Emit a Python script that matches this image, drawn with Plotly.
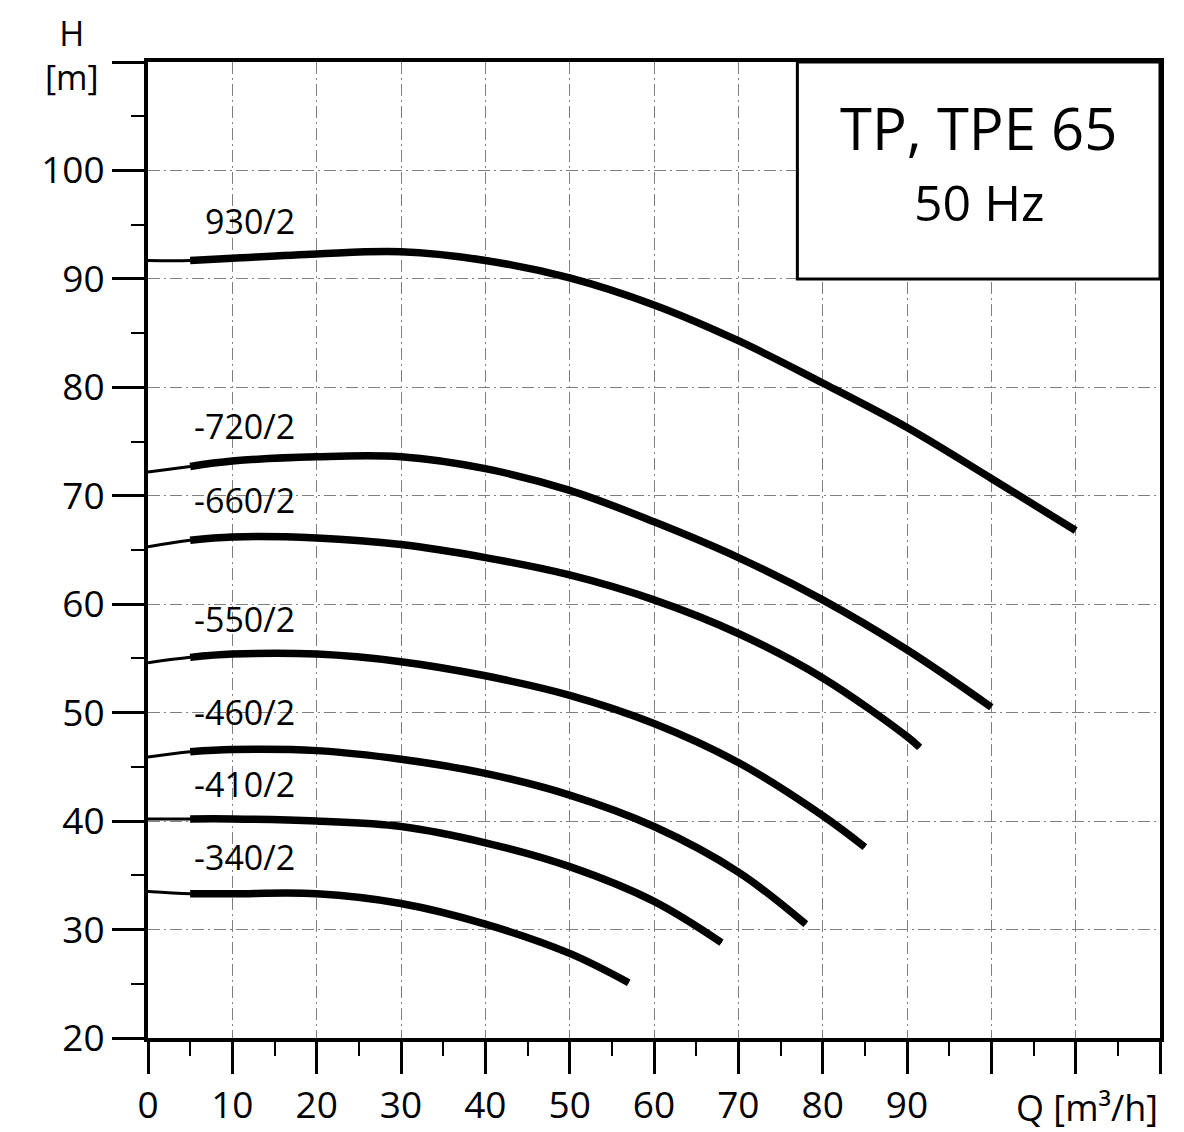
import plotly.graph_objects as go

# ---- data ----
curve_names = ["930/2", "-720/2", "-660/2", "-550/2", "-460/2", "-410/2", "-340/2"]

q_930 = [0, 5, 10, 20, 30, 40, 50, 60, 70, 80, 90, 100, 110]
h_930 = [91.7, 91.7, 91.9, 92.3, 92.5, 91.7, 90.1, 87.6, 84.3, 80.4, 76.3, 71.6, 66.8]

q_720 = [0, 5, 10, 20, 30, 40, 50, 60, 70, 80, 90, 100]
h_720 = [72.2, 72.7, 73.2, 73.6, 73.6, 72.5, 70.5, 67.6, 64.3, 60.4, 55.8, 50.5]

q_660 = [0, 5, 10, 20, 30, 40, 50, 60, 70, 80, 90, 91.5]
h_660 = [65.3, 65.9, 66.2, 66.1, 65.5, 64.3, 62.7, 60.4, 57.3, 53.2, 47.8, 46.8]

q_550 = [0, 5, 10, 20, 30, 40, 50, 60, 70, 80, 85]
h_550 = [54.6, 55.1, 55.4, 55.4, 54.7, 53.4, 51.6, 49.0, 45.4, 40.5, 37.6]

q_460 = [0, 5, 10, 20, 30, 40, 50, 60, 70, 78]
h_460 = [45.9, 46.4, 46.6, 46.5, 45.7, 44.4, 42.4, 39.5, 35.3, 30.5]

q_410 = [0, 5, 10, 20, 30, 40, 50, 60, 68]
h_410 = [40.2, 40.2, 40.2, 40.0, 39.5, 38.0, 35.8, 32.6, 28.8]

q_340 = [0, 5, 10, 20, 30, 40, 50, 57]
h_340 = [33.5, 33.3, 33.3, 33.3, 32.4, 30.5, 27.8, 25.1]

x_tick_vals = [0, 10, 20, 30, 40, 50, 60, 70, 80, 90, 100, 110, 120]
x_tick_text = ["0", "10", "20", "30", "40", "50", "60", "70", "80", "90", "", "", ""]
y_tick_vals = [20, 30, 40, 50, 60, 70, 80, 90, 100, 110]
y_tick_text = ["20", "30", "40", "50", "60", "70", "80", "90", "100", ""]

title_line1 = "TP, TPE 65"
title_line2 = "50 Hz"
x_title = "Q [m³/h]"
y_title = "H<br>[m]"

curves = [
    (curve_names[0], q_930, h_930),
    (curve_names[1], q_720, h_720),
    (curve_names[2], q_660, h_660),
    (curve_names[3], q_550, h_550),
    (curve_names[4], q_460, h_460),
    (curve_names[5], q_410, h_410),
    (curve_names[6], q_340, h_340),
]

# ---- styling ----
FONT = "Open Sans"
label_shift_px = [-39, -46, -47, -44, -45, -35, -35]   # label placement above curve start

fig = go.Figure()

for (name, q, h), dy in zip(curves, label_shift_px):
    # thin lead-in part of the curve
    fig.add_trace(go.Scatter(x=q, y=h, mode="lines",
                             line=dict(color="black", width=3, shape="spline"),
                             showlegend=False, hoverinfo="skip"))
    # thick main part (from the second point onwards)
    fig.add_trace(go.Scatter(x=q[1:], y=h[1:], mode="lines", name=name,
                             line=dict(color="black", width=7.5, shape="spline"),
                             showlegend=False))
    fig.add_annotation(x=17.7, y=h[0], yshift=-dy, xref="x", yref="y", text=name,
                       showarrow=False, xanchor="right", yanchor="middle",
                       font=dict(family=FONT, size=34, color="black"))

axis_common = dict(
    ticks="outside", ticklen=32, tickwidth=3, tickcolor="black",
    showline=True, linewidth=4, linecolor="black", mirror=True,
    showgrid=True, gridcolor="#808080", gridwidth=1, griddash="12px,4px,2px,4px",
    zeroline=False, automargin=False,
    tickfont=dict(family=FONT, size=37, color="black"),
    tickmode="array",
)

fig.update_xaxes(range=[0, 120], tickvals=x_tick_vals, ticktext=x_tick_text,
                 minor=dict(dtick=5, tick0=0, ticks="outside", ticklen=14,
                            tickwidth=2, tickcolor="black", showgrid=False),
                 **axis_common)
fig.update_yaxes(range=[20, 110], tickvals=y_tick_vals, ticktext=y_tick_text,
                 minor=dict(dtick=5, tick0=20, ticks="outside", ticklen=13,
                            tickwidth=2, tickcolor="black", showgrid=False),
                 **axis_common)

# title box
fig.add_shape(type="rect", xref="x", yref="y", x0=77, x1=120, y0=90, y1=110,
              line=dict(color="black", width=3), fillcolor="white", layer="above")
fig.add_annotation(x=98.5, y=104.0, xref="x", yref="y", text=title_line1,
                   showarrow=False, font=dict(family=FONT, size=58, color="black"))
fig.add_annotation(x=98.5, y=97.1, xref="x", yref="y", text=title_line2,
                   showarrow=False, font=dict(family=FONT, size=50, color="black"))

# axis titles
fig.add_annotation(x=1.0, y=-0.071, xref="paper", yref="paper", text=x_title,
                   showarrow=False, xanchor="right", yanchor="middle",
                   font=dict(family=FONT, size=36, color="black"))
fig.add_annotation(x=-0.075, y=1.007, xref="paper", yref="paper", text=y_title,
                   showarrow=False, xanchor="center", yanchor="middle",
                   font=dict(family=FONT, size=34, color="black"))

fig.update_layout(width=1184, height=1132,
                  margin=dict(l=148, r=24, t=62, b=94),
                  paper_bgcolor="white", plot_bgcolor="white",
                  showlegend=False)

fig.write_html("out.html", config={"displayModeBar": False},
               post_script="document.body.style.margin='0px';")
